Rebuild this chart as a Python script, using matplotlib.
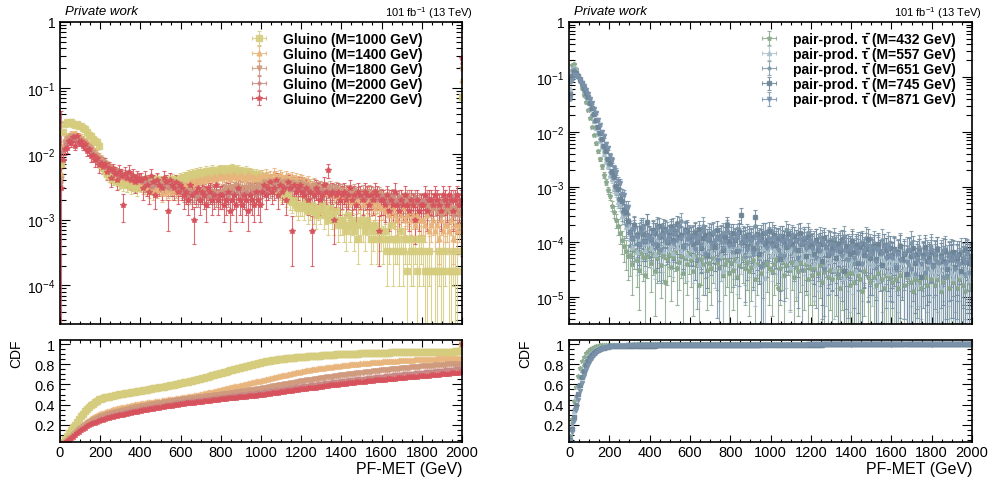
import numpy as np
import matplotlib
matplotlib.use("Agg")
import matplotlib.pyplot as plt
from matplotlib.ticker import LogLocator, MultipleLocator, FuncFormatter, NullFormatter

plt.rcParams["font.family"] = ["Liberation Sans", "DejaVu Sans"]
plt.rcParams["mathtext.fontset"] = "custom"
plt.rcParams["mathtext.rm"] = "Liberation Sans"
plt.rcParams["mathtext.it"] = "Liberation Sans:italic"
plt.rcParams["mathtext.bf"] = "Liberation Sans:bold"

BIN = 10      # GeV per bin
MET_MAX = 2000

# ---- gluino samples: event counts per 10 GeV bin of PF-MET (0-2000 GeV) ----
gluino_labels = ["Gluino (M=1000 GeV)", "Gluino (M=1400 GeV)", "Gluino (M=1800 GeV)",
                 "Gluino (M=2000 GeV)", "Gluino (M=2200 GeV)"]
gluino_1000 = [
    42, 130, 170, 180, 175, 185, 170, 165, 172, 160, 158, 150, 140, 128, 115, 110, 100, 95, 90, 80,
    40, 36, 33, 30, 28, 27, 25, 26, 24, 22, 23, 21, 24, 20, 22, 19, 21, 20, 18, 21,
    20, 22, 19, 23, 21, 24, 20, 22, 25, 21, 23, 22, 24, 21, 23, 25, 22, 24, 23, 26,
    25, 27, 26, 29, 28, 30, 27, 31, 29, 32, 30, 28, 33, 31, 30, 34, 32, 31, 33, 35,
    33, 35, 31, 34, 32, 36, 30, 33, 34, 31, 32, 30, 33, 29, 31, 30, 28, 30, 27, 29,
    27, 25, 24, 22, 23, 20, 19, 20, 17, 16, 15, 16, 13, 14, 12, 11, 12, 10, 9, 10,
    10, 9, 11, 8, 9, 10, 8, 7, 9, 8, 10, 7, 8, 6, 9, 7, 6, 8, 5, 6,
    6, 5, 4, 7, 5, 6, 4, 5, 3, 6, 5, 4, 6, 5, 3, 4, 5, 3, 4, 4,
    3, 4, 2, 3, 5, 2, 3, 3, 2, 4, 2, 3, 1, 3, 2, 2, 3, 1, 2, 3,
    2, 1, 1, 2, 1, 0, 1, 1, 2, 1, 1, 2, 0, 1, 1, 2, 1, 1, 0, 2,
]
gluino_1400 = [
    30, 80, 100, 110, 115, 120, 118, 122, 115, 112, 108, 100, 95, 90, 85, 78, 72, 66, 60, 55,
    50, 46, 42, 40, 37, 35, 33, 31, 30, 28, 29, 27, 26, 25, 27, 24, 23, 25, 22, 23,
    22, 19, 20, 18, 17, 19, 16, 18, 17, 20, 15, 18, 16, 17, 19, 16, 18, 17, 16, 19,
    18, 20, 21, 19, 22, 23, 21, 24, 22, 25, 23, 26, 24, 27, 25, 26, 28, 25, 27, 29,
    26, 28, 27, 29, 25, 28, 30, 26, 27, 29, 28, 25, 27, 30, 26, 28, 27, 25, 28, 26,
    29, 26, 30, 27, 28, 25, 31, 28, 26, 29, 27, 24, 28, 26, 25, 27, 24, 26, 23, 25,
    24, 22, 21, 23, 20, 19, 21, 18, 17, 19, 16, 18, 15, 17, 16, 14, 15, 16, 13, 14,
    14, 13, 15, 12, 13, 11, 14, 12, 11, 13, 10, 12, 11, 12, 10, 11, 9, 11, 10, 9,
    9, 8, 10, 7, 8, 9, 7, 6, 8, 7, 9, 6, 7, 8, 6, 7, 5, 7, 6, 6,
    6, 5, 7, 4, 5, 6, 4, 5, 3, 6, 4, 5, 5, 4, 6, 3, 5, 4, 5, 4,
]
gluino_1800 = [
    25, 70, 92, 100, 105, 110, 108, 112, 105, 100, 98, 92, 86, 80, 75, 70, 64, 58, 54, 50,
    48, 45, 42, 38, 36, 34, 33, 31, 29, 30, 28, 27, 29, 26, 25, 27, 24, 25, 23, 24,
    23, 22, 21, 24, 20, 22, 19, 23, 21, 20, 22, 19, 21, 20, 18, 22, 19, 20, 18, 21,
    17, 16, 15, 17, 14, 16, 15, 13, 16, 14, 15, 17, 14, 13, 15, 16, 14, 15, 13, 15,
    16, 17, 18, 16, 19, 17, 18, 20, 17, 19, 18, 16, 19, 18, 20, 17, 19, 18, 20, 19,
    20, 22, 21, 19, 23, 21, 22, 20, 24, 21, 22, 19, 23, 20, 21, 22, 19, 21, 20, 22,
    21, 19, 20, 18, 19, 17, 20, 18, 17, 19, 18, 16, 18, 17, 19, 16, 17, 18, 15, 17,
    17, 15, 16, 14, 16, 15, 17, 14, 15, 13, 16, 14, 15, 16, 13, 15, 14, 13, 15, 14,
    13, 12, 14, 11, 12, 13, 11, 12, 10, 13, 12, 11, 12, 13, 10, 12, 11, 12, 10, 11,
    11, 10, 9, 10, 8, 9, 10, 8, 9, 7, 10, 8, 9, 8, 9, 7, 9, 8, 7, 8,
]
gluino_2000 = [
    22, 65, 85, 95, 100, 102, 104, 100, 98, 95, 90, 85, 80, 75, 70, 64, 58, 54, 50, 46,
    46, 44, 40, 38, 36, 33, 32, 30, 31, 28, 29, 27, 26, 28, 25, 26, 24, 25, 23, 25,
    22, 23, 20, 22, 21, 19, 23, 20, 22, 21, 19, 20, 22, 18, 21, 20, 19, 21, 18, 20,
    16, 15, 17, 14, 16, 15, 14, 16, 13, 15, 16, 14, 15, 13, 16, 14, 15, 13, 14, 15,
    14, 16, 15, 13, 15, 16, 14, 15, 17, 14, 15, 13, 16, 15, 14, 16, 15, 14, 16, 15,
    17, 18, 16, 19, 17, 18, 20, 17, 19, 18, 17, 19, 18, 20, 17, 18, 19, 17, 18, 19,
    18, 17, 16, 18, 17, 15, 17, 16, 18, 16, 17, 15, 16, 17, 15, 16, 17, 15, 16, 15,
    15, 14, 13, 15, 14, 12, 14, 13, 15, 13, 14, 12, 13, 14, 12, 13, 14, 12, 13, 14,
    13, 12, 11, 13, 12, 14, 11, 12, 13, 11, 12, 10, 13, 12, 11, 12, 13, 11, 12, 11,
    12, 11, 13, 12, 10, 12, 13, 11, 12, 10, 12, 13, 11, 12, 11, 13, 12, 10, 12, 11,
]
gluino_2200 = [
    9, 24, 35, 37, 47, 44, 53, 40, 55, 46, 47, 40, 42, 33, 35, 28, 29, 24, 26, 20,
    22, 19, 21, 16, 18, 13, 17, 15, 12, 16, 14, 5, 15, 13, 16, 12, 14, 11, 13, 12,
    12, 9, 13, 10, 8, 14, 11, 7, 12, 10, 9, 13, 11, 4, 12, 10, 9, 11, 8, 10,
    9, 7, 8, 6, 10, 7, 3, 8, 9, 6, 8, 7, 5, 9, 8, 6, 7, 10, 6, 7,
    7, 5, 6, 8, 4, 6, 7, 5, 9, 6, 5, 7, 6, 4, 7, 6, 5, 8, 6, 5,
    8, 10, 7, 9, 11, 8, 9, 12, 7, 10, 8, 9, 6, 11, 9, 2, 10, 8, 9, 10,
    8, 7, 9, 6, 8, 2, 7, 9, 8, 6, 7, 10, 8, 17, 7, 8, 3, 7, 8, 6,
    7, 8, 6, 7, 9, 6, 7, 5, 8, 7, 6, 8, 7, 5, 7, 6, 8, 7, 2, 6,
    6, 5, 7, 4, 6, 5, 8, 5, 4, 6, 5, 7, 5, 4, 6, 5, 3, 6, 4, 5,
    5, 7, 4, 6, 6, 5, 7, 6, 5, 4, 7, 6, 5, 7, 6, 4, 6, 7, 5, 6,
]
gluino_overflow = [440, 802, 1159, 1412, 845]
# the M=2200 sample has two very wide uncertainty bars (first bin, overflow)
gluino_2200_wide_err = [0.042, 0.32]

# ---- pair-produced stau samples: weighted event counts per 10 GeV bin ----
tau_labels = ["pair-prod. \u03c4\u0304 (M=432 GeV)", "pair-prod. \u03c4\u0304 (M=557 GeV)",
              "pair-prod. \u03c4\u0304 (M=651 GeV)", "pair-prod. \u03c4\u0304 (M=745 GeV)",
              "pair-prod. \u03c4\u0304 (M=871 GeV)"]
tau_432 = [
    4500, 8000, 8250, 6750, 5250, 4000, 3000, 2250, 1650, 1200,
    850, 600, 425, 300, 215, 155, 114, 80, 60, 42,
    33, 22, 17, 12, 9.5, 7.0, 5.2, 4.1, 3.3, 2.6,
    2.8, 1.9, 3.4, 2.2, 1.5, 3.0, 2.5, 1.2, 2.7, 3.6,
    2.0, 2.9, 1.4, 2.4, 3.1, 1.8, 2.6, 0.9, 2.3, 2.8,
    1.7, 2.5, 3.2, 1.6, 2.1, 2.7, 1.3, 2.4, 1.9, 3.0,
    2.2, 1.4, 2.6, 1.8, 0.8, 2.3, 1.9, 2.7, 1.5, 2.0,
    1.6, 2.4, 0.0, 2.1, 1.7, 2.5, 1.2, 1.9, 2.2, 1.3,
    2.0, 1.5, 2.3, 1.1, 1.8, 0.0, 2.4, 1.6, 2.1, 1.4,
    1.7, 2.2, 1.0, 1.9, 2.5, 1.3, 1.8, 0.0, 2.0, 1.6,
    1.4, 1.9, 2.3, 0.7, 1.6, 2.1, 1.2, 1.8, 0.0, 1.5,
    2.1, 1.1, 1.7, 1.4, 2.0, 0.0, 1.5, 1.9, 1.0, 1.6,
    1.2, 1.6, 0.0, 1.3, 1.8, 0.9, 1.4, 0.0, 1.1, 1.5,
    1.0, 0.0, 1.4, 1.1, 0.7, 1.5, 0.0, 1.2, 1.3, 0.8,
    1.3, 0.9, 0.0, 1.2, 1.0, 0.6, 1.4, 0.0, 1.1, 0.9,
    0.0, 1.1, 0.8, 1.3, 0.0, 1.0, 0.7, 1.2, 0.0, 1.1,
    0.9, 0.0, 1.0, 0.7, 1.2, 0.0, 0.8, 1.1, 0.0, 0.9,
    0.6, 1.0, 0.0, 0.9, 0.7, 0.0, 1.1, 0.8, 0.0, 1.0,
    0.0, 0.8, 1.0, 0.0, 0.6, 0.9, 0.0, 1.1, 0.7, 0.0,
    0.9, 0.0, 0.7, 1.0, 0.0, 0.8, 0.6, 0.0, 0.9, 0.7,
]
tau_557 = [
    2400, 5200, 6000, 5400, 4400, 3600, 2880, 2280, 1800, 1400,
    1080, 840, 640, 480, 368, 280, 212, 160, 118, 95,
    66, 55, 38, 32, 21, 19, 12, 13, 7.5, 8.1,
    4.5, 3.3, 5.2, 2.6, 4.1, 3.7, 6.0, 2.9, 3.8, 4.6,
    3.1, 4.9, 2.4, 4.2, 3.5, 5.4, 2.8, 3.9, 4.4, 3.0,
    3.6, 2.5, 4.7, 3.2, 4.0, 2.7, 5.1, 3.4, 2.3, 4.3,
    3.0, 2.2, 3.7, 4.1, 1.6, 3.3, 2.8, 3.9, 2.5, 3.4,
    2.6, 3.8, 2.0, 3.1, 4.4, 2.3, 1.2, 3.5, 2.9, 3.2,
    3.6, 2.4, 3.0, 1.8, 3.3, 2.7, 4.2, 2.1, 3.4, 2.5,
    2.9, 3.5, 1.5, 2.6, 3.8, 2.2, 3.1, 0.9, 2.8, 3.3,
    2.3, 3.0, 2.7, 3.6, 1.9, 2.5, 3.2, 2.0, 2.9, 1.4,
    3.1, 2.4, 1.7, 2.8, 3.5, 2.1, 2.6, 3.0, 1.8, 2.7,
    2.2, 1.6, 2.9, 1.9, 2.4, 0.0, 2.7, 1.5, 2.1, 1.8,
    2.5, 1.3, 2.0, 2.6, 1.7, 2.2, 0.9, 2.4, 1.9, 1.4,
    1.8, 2.3, 1.2, 1.9, 2.5, 1.6, 2.1, 0.0, 1.7, 2.2,
    1.5, 2.0, 1.7, 0.8, 2.2, 1.4, 1.9, 1.6, 1.1, 2.0,
    1.6, 1.2, 1.9, 1.4, 0.0, 1.7, 1.3, 2.1, 1.0, 1.5,
    1.1, 1.8, 0.7, 1.5, 1.3, 1.9, 0.0, 1.4, 1.6, 1.2,
    1.7, 1.0, 1.4, 1.2, 0.6, 1.6, 1.3, 0.0, 1.5, 1.1,
    0.9, 1.4, 1.2, 1.6, 1.0, 0.0, 1.3, 1.1, 0.8, 1.5,
]
tau_651 = [
    2100, 3600, 3750, 3300, 2700, 2250, 1800, 1440, 1140, 900,
    690, 540, 420, 330, 255, 195, 148, 118, 84, 69,
    49, 41, 28, 24, 16, 15, 9.3, 8.6, 5.4, 6.2,
    4.2, 3.1, 5.6, 2.4, 3.8, 4.9, 2.9, 3.5, 6.1, 3.3,
    2.7, 4.4, 3.9, 5.2, 1.9, 3.6, 4.8, 3.0, 4.1, 2.5,
    3.7, 5.0, 2.8, 4.3, 3.2, 6.4, 2.2, 3.9, 4.6, 3.4,
    2.6, 3.5, 4.1, 1.3, 3.0, 2.4, 5.1, 3.3, 2.8, 3.9,
    2.1, 4.0, 2.9, 3.4, 0.9, 2.6, 3.8, 3.1, 4.5, 2.3,
    3.6, 1.7, 2.8, 3.2, 4.6, 2.5, 3.0, 1.4, 3.7, 2.9,
    2.4, 3.3, 5.2, 2.0, 2.7, 3.5, 1.1, 3.9, 2.6, 3.1,
    4.1, 2.2, 3.0, 2.8, 1.6, 3.4, 2.5, 4.3, 2.1, 2.9,
    3.2, 1.9, 2.7, 3.6, 2.3, 0.8, 3.1, 2.4, 3.8, 2.6,
    2.3, 1.5, 2.8, 1.9, 3.2, 1.2, 2.4, 0.0, 2.7, 1.8,
    1.6, 3.0, 2.1, 0.7, 2.5, 1.9, 3.4, 1.3, 2.2, 2.0,
    2.9, 1.1, 1.8, 2.4, 0.0, 2.6, 1.7, 3.1, 1.4, 2.2,
    1.9, 2.5, 0.9, 2.1, 1.6, 2.8, 0.0, 1.8, 2.4, 1.5,
    1.4, 2.0, 0.8, 1.7, 2.3, 0.0, 1.2, 1.9, 1.0, 2.5,
    1.6, 0.7, 1.3, 2.1, 0.0, 1.5, 1.8, 0.9, 1.4, 2.2,
    0.0, 1.3, 1.9, 1.1, 1.6, 0.6, 2.0, 1.2, 0.0, 1.7,
    1.5, 0.9, 1.2, 0.0, 1.8, 1.1, 0.7, 1.6, 1.3, 1.0,
]
tau_745 = [
    1500, 3300, 3900, 3750, 3300, 2850, 2400, 1980, 1620, 1320,
    1050, 840, 660, 510, 390, 300, 236, 176, 141, 101,
    84, 57, 47, 33, 29, 19, 17, 12, 11, 7.4,
    4.8, 3.6, 6.2, 4.1, 2.9, 5.5, 4.4, 3.2, 7.3, 4.0,
    3.5, 5.1, 4.6, 2.7, 6.0, 3.9, 4.7, 5.4, 3.1, 4.2,
    5.8, 3.3, 4.5, 6.6, 3.8, 4.1, 2.6, 5.2, 4.9, 3.7,
    3.9, 2.8, 4.6, 3.1, 5.3, 2.4, 3.7, 4.2, 1.8, 3.5,
    4.4, 3.0, 2.5, 5.1, 3.6, 4.0, 2.2, 3.8, 6.3, 3.2,
    2.9, 4.5, 3.4, 2.1, 4.8, 9.6, 3.1, 3.9, 2.6, 4.1,
    3.7, 2.4, 8.8, 4.3, 1.9, 3.5, 4.6, 2.8, 3.3, 4.9,
    3.0, 4.2, 2.7, 3.6, 1.5, 4.0, 3.2, 2.5, 4.4, 3.1,
    2.8, 3.9, 3.3, 2.2, 4.6, 2.9, 3.5, 1.7, 3.8, 2.6,
    2.7, 1.9, 3.4, 2.2, 2.9, 1.4, 3.6, 2.5, 1.8, 3.1,
    2.4, 3.0, 1.6, 2.8, 2.1, 3.3, 0.9, 2.6, 2.2, 1.9,
    3.2, 2.0, 2.7, 1.3, 2.5, 2.9, 1.8, 2.3, 3.5, 1.6,
    2.1, 2.6, 1.5, 2.9, 2.0, 1.2, 2.7, 2.2, 1.7, 2.4,
    1.8, 2.3, 1.1, 2.0, 2.6, 1.5, 1.9, 0.8, 2.2, 1.7,
    2.4, 1.3, 1.9, 2.1, 0.7, 1.8, 2.5, 1.4, 1.6, 2.0,
    1.2, 1.9, 2.3, 0.0, 1.7, 1.4, 2.1, 1.0, 1.8, 1.5,
    2.0, 1.1, 1.6, 1.9, 0.9, 1.4, 2.2, 0.0, 1.3, 1.7,
]
tau_871 = [
    1000, 2250, 2750, 2750, 2500, 2250, 2000, 1750, 1500, 1250,
    1025, 850, 675, 550, 425, 340, 258, 210, 155, 129,
    94, 79, 55, 48, 33, 30, 19, 18, 11, 11,
    3.6, 2.8, 4.3, 3.1, 2.2, 3.9, 4.7, 2.5, 3.3, 3.0,
    2.9, 3.7, 2.3, 4.5, 3.2, 1.8, 3.4, 4.0, 2.6, 3.1,
    4.1, 2.4, 3.5, 2.7, 5.0, 3.0, 2.1, 3.8, 2.9, 3.3,
    2.5, 3.1, 1.9, 2.8, 3.4, 2.2, 4.0, 1.5, 2.7, 3.0,
    2.3, 3.6, 2.6, 1.2, 2.9, 3.3, 2.0, 2.5, 3.8, 2.1,
    3.0, 2.2, 2.8, 3.5, 1.7, 2.4, 3.1, 2.6, 1.9, 3.2,
    2.7, 1.6, 3.3, 2.3, 2.9, 0.9, 2.5, 3.6, 2.0, 2.8,
    2.1, 3.0, 2.4, 1.8, 3.2, 2.6, 1.4, 2.9, 2.2, 2.5,
    3.4, 2.0, 2.6, 1.3, 2.8, 2.3, 3.0, 1.9, 2.4, 2.7,
    1.9, 2.4, 1.3, 2.1, 1.7, 2.6, 0.8, 2.0, 1.5, 2.3,
    1.6, 2.2, 1.8, 0.0, 2.0, 1.4, 2.5, 1.7, 1.2, 1.9,
    2.1, 1.3, 1.9, 1.6, 2.3, 1.0, 1.8, 2.2, 1.4, 1.7,
    1.5, 2.0, 1.1, 1.8, 0.0, 1.6, 2.1, 1.3, 1.9, 1.4,
    1.3, 1.7, 0.9, 1.5, 1.2, 0.0, 1.6, 1.1, 1.8, 0.8,
    1.4, 0.0, 1.2, 1.6, 1.0, 1.3, 0.7, 1.5, 1.1, 1.8,
    0.9, 1.5, 1.1, 0.0, 1.3, 1.7, 1.0, 0.6, 1.4, 1.2,
    1.2, 0.8, 1.4, 1.0, 0.0, 1.3, 1.1, 1.6, 0.7, 1.0,
]
tau_overflow = [0.8, 1.0, 1.2, 1.5, 1.1]

gluino_colors = ["#d5cc7e", "#e8b57c", "#cf9a7d", "#c98784", "#d7525c"]
gluino_markers = [("s", 4.5), ("^", 3.5), ("v", 3.5), ("o", 2.0), ("*", 4.0)]
tau_colors = ["#8aa98d", "#aac1cd", "#7f98a6", "#6d8597", "#7a93ab"]
tau_markers = [("*", 3.5), ("^", 3.0), ("o", 2.0), ("s", 2.5), ("v", 3.0)]

centers = np.arange(BIN / 2, MET_MAX, BIN)


def hist_points(counts, overflow):
    counts = np.asarray(counts, dtype=float)
    assert len(counts) == len(centers)
    n = np.append(counts, overflow)
    total = n.sum()
    x = np.append(centers, MET_MAX)
    return x, n / total, np.sqrt(n) / total, np.cumsum(n) / total


def draw(ax_top, ax_cdf, x, frac, err_lo, err_hi, cdf, color, marker, ms):
    ok = frac > 0
    cont = ax_top.errorbar(x[ok], frac[ok], yerr=[err_lo[ok], err_hi[ok]], xerr=BIN / 2,
                           fmt=marker, ms=ms, color=color, mec=color, mfc=color,
                           elinewidth=0.8, capsize=1.4, capthick=0.8, alpha=0.85)
    ax_cdf.plot(x, cdf, marker, ms=ms, color=color, mec=color, alpha=0.9)
    return cont


def style_top(ax, ymin):
    ax.set_yscale("log")
    ax.set_xlim(0, MET_MAX)
    ax.set_ylim(ymin, 1)
    ax.yaxis.set_major_locator(LogLocator(base=10, numticks=20))
    ax.yaxis.set_minor_locator(LogLocator(base=10, subs=np.arange(2, 10), numticks=100))
    ax.yaxis.set_minor_formatter(NullFormatter())
    ax.yaxis.set_major_formatter(FuncFormatter(
        lambda v, p: "1" if abs(v - 1) < 1e-9 else r"$10^{%d}$" % round(np.log10(v))))
    ax.xaxis.set_major_locator(MultipleLocator(200))
    ax.xaxis.set_minor_locator(MultipleLocator(50))
    ax.set_xticklabels([])
    ax.tick_params(which="both", direction="in", top=True, right=True, labelsize=10, width=0.8)
    ax.tick_params(axis="y", which="major", length=7.5)
    ax.tick_params(axis="y", which="minor", length=4)
    ax.tick_params(axis="x", which="major", length=5)
    ax.tick_params(axis="x", which="minor", length=2.5)
    for s in ax.spines.values():
        s.set_linewidth(1.2)


def style_cdf(ax):
    ax.set_xlim(0, MET_MAX)
    ax.set_ylim(0.03, 1.04)
    ax.xaxis.set_major_locator(MultipleLocator(200))
    ax.xaxis.set_minor_locator(MultipleLocator(50))
    ax.yaxis.set_major_locator(MultipleLocator(0.2))
    ax.yaxis.set_minor_locator(MultipleLocator(0.05))
    ax.yaxis.set_major_formatter(FuncFormatter(lambda v, p: "%g" % round(v, 2)))
    ax.tick_params(which="both", direction="in", top=True, right=True, labelsize=10.5, width=0.8)
    ax.tick_params(axis="x", which="both", pad=2)
    ax.tick_params(axis="y", which="major", length=7)
    ax.tick_params(axis="y", which="minor", length=3.5)
    ax.tick_params(axis="x", which="major", length=5)
    ax.tick_params(axis="x", which="minor", length=2.5)
    for s in ax.spines.values():
        s.set_linewidth(1.2)


W, H = 994, 485
fig = plt.figure(figsize=(W / 100, H / 100), dpi=100)


def px_axes(x0, x1, y0, y1):
    return fig.add_axes([x0 / W, 1 - y1 / H, (x1 - x0) / W, (y1 - y0) / H])


axL = px_axes(60, 462, 23, 325)
axLc = px_axes(60, 462, 341, 443)
axR = px_axes(569, 972, 23, 325)
axRc = px_axes(569, 972, 341, 443)

legend_kw = dict(loc="upper left", bbox_transform=fig.transFigure, frameon=False,
                 prop={"weight": "bold", "size": 10}, handlelength=2.5, handletextpad=0.45,
                 labelspacing=0.07, borderpad=0, borderaxespad=0)

# left: gluinos
g_series = [gluino_1000, gluino_1400, gluino_1800, gluino_2000, gluino_2200]
handles = []
for i, counts in enumerate(g_series):
    x, frac, err, cdf = hist_points(counts, gluino_overflow[i])
    lo = np.minimum(err, frac * 0.999)
    hi = err.copy()
    if i == 4:
        lo[0], lo[-1] = frac[0] * 0.999, frac[-1] * 0.999
        hi[0], hi[-1] = gluino_2200_wide_err
    m, ms = gluino_markers[i]
    handles.append(draw(axL, axLc, x, frac, lo, hi, cdf, gluino_colors[i], m, ms))
style_top(axL, 2.6e-5)
style_cdf(axLc)
axL.legend(handles, gluino_labels, bbox_to_anchor=(242 / W, 1 - 33 / H), **legend_kw)

# right: staus
t_series = [tau_432, tau_557, tau_651, tau_745, tau_871]
handles = []
for i, counts in enumerate(t_series):
    x, frac, err, cdf = hist_points(counts, tau_overflow[i])
    lo = np.minimum(err, frac * 0.999)
    m, ms = tau_markers[i]
    handles.append(draw(axR, axRc, x, frac, lo, err, cdf, tau_colors[i], m, ms))
style_top(axR, 3.2e-6)
style_cdf(axRc)
axR.legend(handles, tau_labels, bbox_to_anchor=(752 / W, 1 - 33 / H), **legend_kw)

# annotations
for x_left, x_right in [(65, 473), (574, 982)]:
    fig.text(x_left / W, 1 - 12 / H, "Private work", style="italic", size=9.5, va="center", ha="left")
    fig.text(x_right / W, 1 - 13 / H, r"101 fb$^{-1}$ (13 TeV)", size=8, va="center", ha="right")
for x_cdf, x_end in [(16, 462), (525, 972)]:
    fig.text(x_cdf / W, 1 - 340 / H, "CDF", rotation=90, size=10, ha="center", va="top")
    fig.text(x_end / W, 1 - 470 / H, "PF-MET (GeV)", size=11.5, ha="right", va="center")

fig.savefig("out.png", dpi=100)
